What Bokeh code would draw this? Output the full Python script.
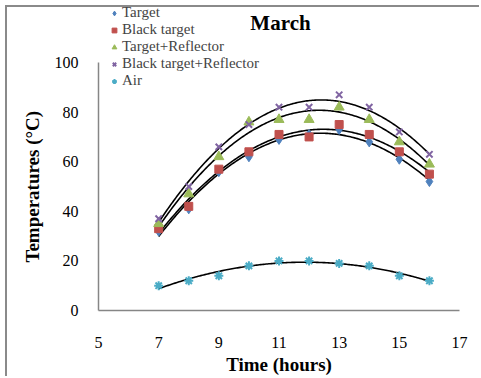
import numpy as np
from bokeh.plotting import figure
from bokeh.models import Legend, LegendItem, FixedTicker, Range1d, Label, Title
from bokeh.embed import file_html
from bokeh.resources import INLINE

hours = [7, 8, 9, 10, 11, 12, 13, 14, 15, 16]
target = [32, 41, 56, 62, 69, 71, 73, 68, 61, 52]
black_target = [33, 42, 57, 64, 71, 70, 75, 71, 64, 55]
target_reflector = [35, 47, 62, 76, 77, 77, 82, 77, 68, 59]
black_target_reflector = [37, 50, 66, 75, 82, 82, 87, 82, 72, 63]
air = [10, 12, 14, 18, 20, 20, 19, 18, 14, 12]

series_names = ["Target", "Black target", "Target+Reflector",
                "Black target+Reflector", "Air"]
series_values = [target, black_target, target_reflector,
                 black_target_reflector, air]
x_ticks = [5, 7, 9, 11, 13, 15, 17]
y_ticks = [0, 20, 40, 60, 80, 100]
title_text = "March"
x_title = "Time (hours)"
y_title = "Temperatures (°C)"

markers = ["diamond", "square", "triangle", "x", "asterisk"]
colors = ["#4F81BD", "#C0504D", "#9BBB59", "#8064A2", "#4BACC6"]
sizes = [10, 8, 10, 9, 9]

FONT = "Liberation Serif"

# frame extends above the y axis (axis drawn only 0..100) so legend/title fit
p = figure(width=474, height=371, output_backend="svg", toolbar_location=None,
           x_range=Range1d(5, 17), y_range=Range1d(0, 122.2),
           min_border_left=91, min_border_right=22,
           min_border_top=0, min_border_bottom=68)
p.styles = {"margin-left": "5px", "margin-top": "5px",
            "border-left": "2px solid #8a8a8a", "border-top": "2px solid #8a8a8a"}
p.outline_line_color = None
p.grid.visible = False
p.background_fill_color = "white"
p.border_fill_color = "white"

for ax in (p.xaxis[0], p.yaxis[0]):
    ax.axis_line_color = "#868686"
    ax.axis_line_width = 1.5
    ax.major_tick_line_color = None
    ax.minor_tick_line_color = None
    ax.major_tick_out = 0
    ax.major_tick_in = 0
    ax.minor_tick_out = 0
    ax.minor_tick_in = 0
    ax.major_label_text_font = FONT
    ax.major_label_text_font_size = "16px"
    ax.major_label_text_color = "black"
    ax.axis_label_text_font = FONT
    ax.axis_label_text_font_style = "bold"
    ax.axis_label_text_font_size = "19px"
    ax.axis_label_text_color = "black"

p.yaxis.bounds = (0, 100)
p.xaxis.ticker = FixedTicker(ticks=x_ticks)
p.yaxis.ticker = FixedTicker(ticks=y_ticks)
p.xaxis.axis_label = x_title
p.xaxis.major_label_standoff = 26
p.xaxis.axis_label_standoff = 3
p.yaxis.major_label_standoff = 20

# y title placed so it is centred on the 0..100 axis, not on the whole frame
ytitle = Title(text=y_title, align="left", offset=48, standoff=17,
               text_font=FONT, text_font_style="bold",
               text_font_size="19px", text_color="black")
p.add_layout(ytitle, "left")

xs_fit = np.linspace(min(hours), max(hours), 200)
items = []
for vals in series_values:
    coef = np.polyfit(hours, vals, 2)
    p.line(xs_fit, np.polyval(coef, xs_fit), line_color="black", line_width=1.6)
for name, vals, m, c, s in zip(series_names, series_values, markers, colors, sizes):
    r = p.scatter(hours, vals, marker=m, size=s, fill_color=c, line_color=c,
                  line_width=2 if m in ("x", "asterisk") else 1)
    items.append(LegendItem(label=name, renderers=[r]))

legend = Legend(items=items, location=(10, 221), orientation="vertical",
                label_text_font=FONT, label_text_font_size="15px",
                label_text_line_height=1.0,
                label_height=14, glyph_height=14, glyph_width=12,
                label_standoff=2, spacing=-2, padding=0, margin=0,
                border_line_color=None, background_fill_alpha=0)
p.add_layout(legend, "center")

title = Label(x=11.05, y=116.1, text=title_text, text_align="center",
              text_baseline="middle", text_font=FONT, text_font_style="bold",
              text_font_size="21px", text_color="black")
p.add_layout(title)

open("out.html", "w").write(file_html(p, INLINE))
